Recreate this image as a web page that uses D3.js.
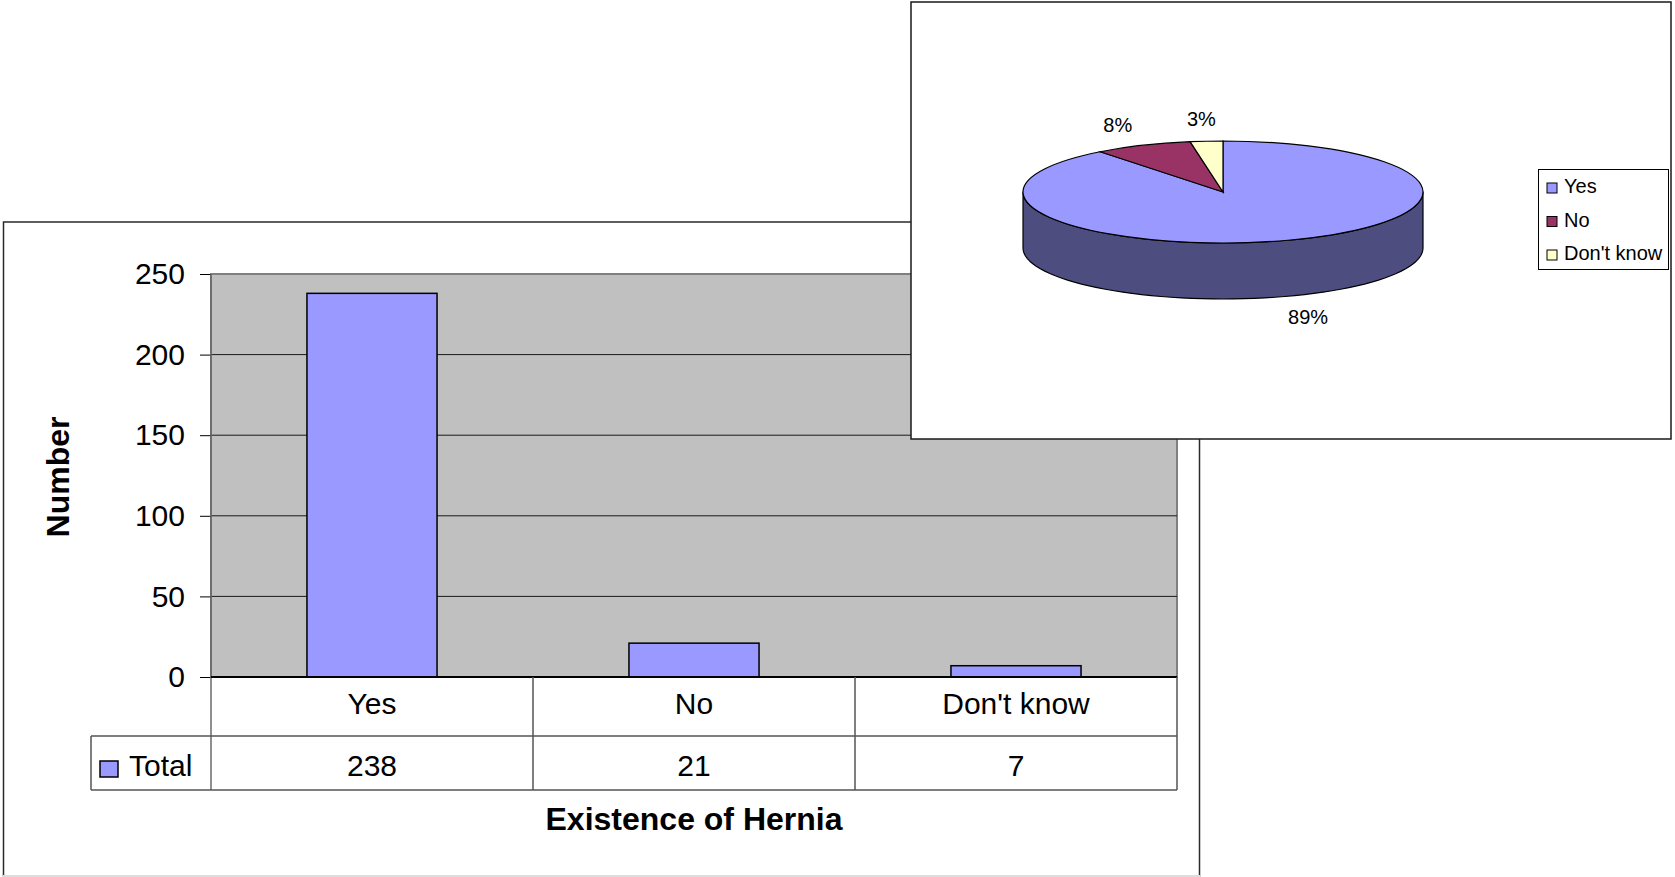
<!DOCTYPE html>
<html>
<head>
<meta charset="utf-8">
<script src="https://cdn.jsdelivr.net/npm/d3@7"></script>
<style>
    body { margin: 0; background: #ffffff; }
    svg { display: block; font-family: 'Liberation Sans', Arial, sans-serif; }
</style>
</head>
<body>
<div id="chart"></div>
<script>
// Data
const categories = ['Yes', 'No', "Don't know"];
const totals = [238, 21, 7];
const yTicks = [0, 50, 100, 150, 200, 250];
const pieColors = ['#9999FF', '#993366', '#FFFFCC'];
const seriesName = 'Total';
const xTitle = 'Existence of Hernia';
const yTitle = 'Number';

const W = 1675, H = 877;

const svg = d3.select( '#chart' )
    .append( 'svg' )
    .attr( 'width', W )
    .attr( 'height', H )
    .attr( 'viewBox', [0, 0, W, H] );

// ---------- bar chart ----------
const plot = { left: 211, right: 1177, top: 274, bottom: 677 };
const row1 = 736, row2 = 790, legendLeft = 91;

// outer frame of the bar chart
svg.append( 'rect' )
    .attr( 'x', 3.5 ).attr( 'y', 222 )
    .attr( 'width', 1196 ).attr( 'height', 654 )
    .attr( 'fill', '#ffffff' )
    .attr( 'stroke', '#2a2a2a' )
    .attr( 'stroke-width', 1.5 );
svg.append( 'line' )
    .attr( 'x1', 3 ).attr( 'x2', 1200 )
    .attr( 'y1', 876 ).attr( 'y2', 876 )
    .attr( 'stroke', '#dddddd' ).attr( 'stroke-width', 2 );

const y = d3.scaleLinear()
    .domain( [0, 250] )
    .range( [plot.bottom, plot.top] );

const col = d3.scaleBand()
    .domain( categories )
    .range( [plot.left, plot.right] );

const x = d3.scaleBand()
    .domain( categories )
    .range( [plot.left, plot.right] )
    .paddingInner( 0.596 )
    .paddingOuter( 0.298 );

// plot area
svg.append( 'rect' )
    .attr( 'x', plot.left ).attr( 'y', plot.top )
    .attr( 'width', plot.right - plot.left )
    .attr( 'height', plot.bottom - plot.top )
    .attr( 'fill', '#C0C0C0' )
    .attr( 'stroke', '#808080' )
    .attr( 'stroke-width', 2 );

// gridlines
svg.append( 'g' )
    .selectAll( 'line' )
    .data( yTicks.filter( d => d > 0 && d < 250 ) )
    .join( 'line' )
        .attr( 'x1', plot.left ).attr( 'x2', plot.right )
        .attr( 'y1', d => y( d ) ).attr( 'y2', d => y( d ) )
        .attr( 'stroke', '#1a1a1a' )
        .attr( 'stroke-width', 1 );

// bars
svg.append( 'g' )
    .selectAll( 'rect' )
    .data( totals )
    .join( 'rect' )
        .attr( 'x', ( d, i ) => x( categories[i] ) )
        .attr( 'y', d => y( d ) )
        .attr( 'width', x.bandwidth() )
        .attr( 'height', d => y( 0 ) - y( d ) )
        .attr( 'fill', '#9999FF' )
        .attr( 'stroke', '#000000' )
        .attr( 'stroke-width', 1.5 );

// y axis
const yAxis = svg.append( 'g' )
    .attr( 'transform', 'translate(' + plot.left + ',0)' )
    .call( d3.axisLeft( y )
        .tickValues( yTicks )
        .tickSize( 11 )
        .tickPadding( 15 ) );
yAxis.select( '.domain' ).remove();
yAxis.selectAll( '.tick line' ).attr( 'stroke', '#000' );
yAxis.selectAll( '.tick text' )
    .attr( 'font-family', "'Liberation Sans', Arial, sans-serif" )
    .attr( 'font-size', 30 )
    .attr( 'fill', '#000' );

// left border line and baseline
svg.append( 'line' )
    .attr( 'x1', plot.left ).attr( 'x2', plot.left )
    .attr( 'y1', plot.top ).attr( 'y2', row2 )
    .attr( 'stroke', '#6a6a6a' ).attr( 'stroke-width', 1.5 );
svg.append( 'line' )
    .attr( 'x1', plot.left ).attr( 'x2', plot.right )
    .attr( 'y1', y( 0 ) ).attr( 'y2', y( 0 ) )
    .attr( 'stroke', '#000' ).attr( 'stroke-width', 2 );

// data table
const tbl = svg.append( 'g' )
    .attr( 'stroke', '#555555' )
    .attr( 'stroke-width', 1.5 );
tbl.append( 'line' )
    .attr( 'x1', legendLeft ).attr( 'x2', plot.right )
    .attr( 'y1', row1 ).attr( 'y2', row1 );
tbl.append( 'line' )
    .attr( 'x1', legendLeft ).attr( 'x2', plot.right )
    .attr( 'y1', row2 ).attr( 'y2', row2 );
tbl.append( 'line' )
    .attr( 'x1', legendLeft ).attr( 'x2', legendLeft )
    .attr( 'y1', row1 ).attr( 'y2', row2 );
tbl.selectAll( 'line.col' )
    .data( categories )
    .join( 'line' )
        .attr( 'class', 'col' )
        .attr( 'x1', d => col( d ) + col.bandwidth() )
        .attr( 'x2', d => col( d ) + col.bandwidth() )
        .attr( 'y1', plot.bottom ).attr( 'y2', row2 );

svg.append( 'g' )
    .selectAll( 'text' )
    .data( categories )
    .join( 'text' )
        .attr( 'x', d => col( d ) + col.bandwidth() / 2 )
        .attr( 'y', 714 )
        .attr( 'text-anchor', 'middle' )
        .attr( 'font-size', 30 )
        .text( d => d );

svg.append( 'g' )
    .selectAll( 'text' )
    .data( totals )
    .join( 'text' )
        .attr( 'x', ( d, i ) => col( categories[i] ) + col.bandwidth() / 2 )
        .attr( 'y', 776 )
        .attr( 'text-anchor', 'middle' )
        .attr( 'font-size', 30 )
        .text( d => d );

svg.append( 'rect' )
    .attr( 'x', 100 ).attr( 'y', 761 )
    .attr( 'width', 18 ).attr( 'height', 16 )
    .attr( 'fill', '#9999FF' )
    .attr( 'stroke', '#000' )
    .attr( 'stroke-width', 1.5 );
svg.append( 'text' )
    .attr( 'x', 129 ).attr( 'y', 776 )
    .attr( 'font-size', 30 )
    .text( seriesName );

// axis titles
svg.append( 'text' )
    .attr( 'x', ( plot.left + plot.right ) / 2 ).attr( 'y', 830 )
    .attr( 'text-anchor', 'middle' )
    .attr( 'font-size', 32 )
    .attr( 'font-weight', 'bold' )
    .text( xTitle );
svg.append( 'text' )
    .attr( 'transform', 'translate(69,477) rotate(-90)' )
    .attr( 'text-anchor', 'middle' )
    .attr( 'font-size', 32 )
    .attr( 'font-weight', 'bold' )
    .text( yTitle );

// ---------- 3D pie chart ----------
svg.append( 'rect' )
    .attr( 'x', 911 ).attr( 'y', 2 )
    .attr( 'width', 760 ).attr( 'height', 437 )
    .attr( 'fill', '#ffffff' )
    .attr( 'stroke', '#1a1a1a' )
    .attr( 'stroke-width', 1.5 );

const cx = 1223, cy = 192, rx = 200, ry = 51, depth = 56;
const sum = d3.sum( totals );
const pct = d3.format( '.0%' );

const arcs = d3.pie().sort( null )( totals );

const ept = ( a, dy ) => [cx + rx * Math.sin( a ), cy - ry * Math.cos( a ) + dy];

// front wall of each slice
const sides = svg.append( 'g' );
arcs.forEach( ( a, i ) => {
    const a0 = Math.max( a.startAngle, Math.PI / 2 ),
        a1 = Math.min( a.endAngle, Math.PI * 1.5 );
    if ( a0 >= a1 ) return;
    const steps = d3.range( 0, 61 ).map( k => a0 + ( a1 - a0 ) * k / 60 );
    const pts = steps.map( t => ept( t, 0 ) )
        .concat( steps.slice().reverse().map( t => ept( t, depth ) ) );
    const c = d3.rgb( pieColors[i] );
    sides.append( 'path' )
        .attr( 'd', d3.line()( pts ) + 'Z' )
        .attr( 'fill', d3.rgb( c.r * 0.5, c.g * 0.5, c.b * 0.5 ) )
        .attr( 'stroke', '#000' )
        .attr( 'stroke-width', 1.2 )
        .attr( 'stroke-linejoin', 'round' );
} );

// top faces
const arcGen = d3.arc().innerRadius( 0 ).outerRadius( rx );
svg.append( 'g' )
    .attr( 'transform', 'translate(' + cx + ',' + cy + ') scale(1,' + ( ry / rx ) + ')' )
    .selectAll( 'path' )
    .data( arcs )
    .join( 'path' )
        .attr( 'd', arcGen )
        .attr( 'fill', ( d, i ) => pieColors[i] )
        .attr( 'stroke', '#000' )
        .attr( 'stroke-width', 1.2 )
        .attr( 'vector-effect', 'non-scaling-stroke' );

// percentage labels
svg.append( 'g' )
    .selectAll( 'text' )
    .data( arcs )
    .join( 'text' )
        .attr( 'x', d => cx + 262 * Math.sin( ( d.startAngle + d.endAngle ) / 2 ) )
        .attr( 'y', d => {
            const m = ( d.startAngle + d.endAngle ) / 2;
            const c = Math.cos( m );
            return cy - 73 * c + ( c < 0 ? depth : 0 ) + 7;
        } )
        .attr( 'text-anchor', 'middle' )
        .attr( 'font-size', 20 )
        .text( d => pct( d.value / sum ) );

// legend
const legend = svg.append( 'g' );
legend.append( 'rect' )
    .attr( 'x', 1538.5 ).attr( 'y', 169.5 )
    .attr( 'width', 130 ).attr( 'height', 100 )
    .attr( 'fill', '#fff' )
    .attr( 'stroke', '#000' )
    .attr( 'stroke-width', 1 );
const items = legend.selectAll( 'g.item' )
    .data( categories )
    .join( 'g' )
        .attr( 'class', 'item' )
        .attr( 'transform', ( d, i ) => 'translate(0,' + ( 193 + i * 33.5 ) + ')' );
items.append( 'rect' )
    .attr( 'x', 1547 ).attr( 'y', -10 )
    .attr( 'width', 10 ).attr( 'height', 10 )
    .attr( 'fill', ( d, i ) => pieColors[i] )
    .attr( 'stroke', '#000' )
    .attr( 'stroke-width', 1 );
items.append( 'text' )
    .attr( 'x', 1564 ).attr( 'y', 0 )
    .attr( 'font-size', 20 )
    .text( d => d );
</script>
</body>
</html>
